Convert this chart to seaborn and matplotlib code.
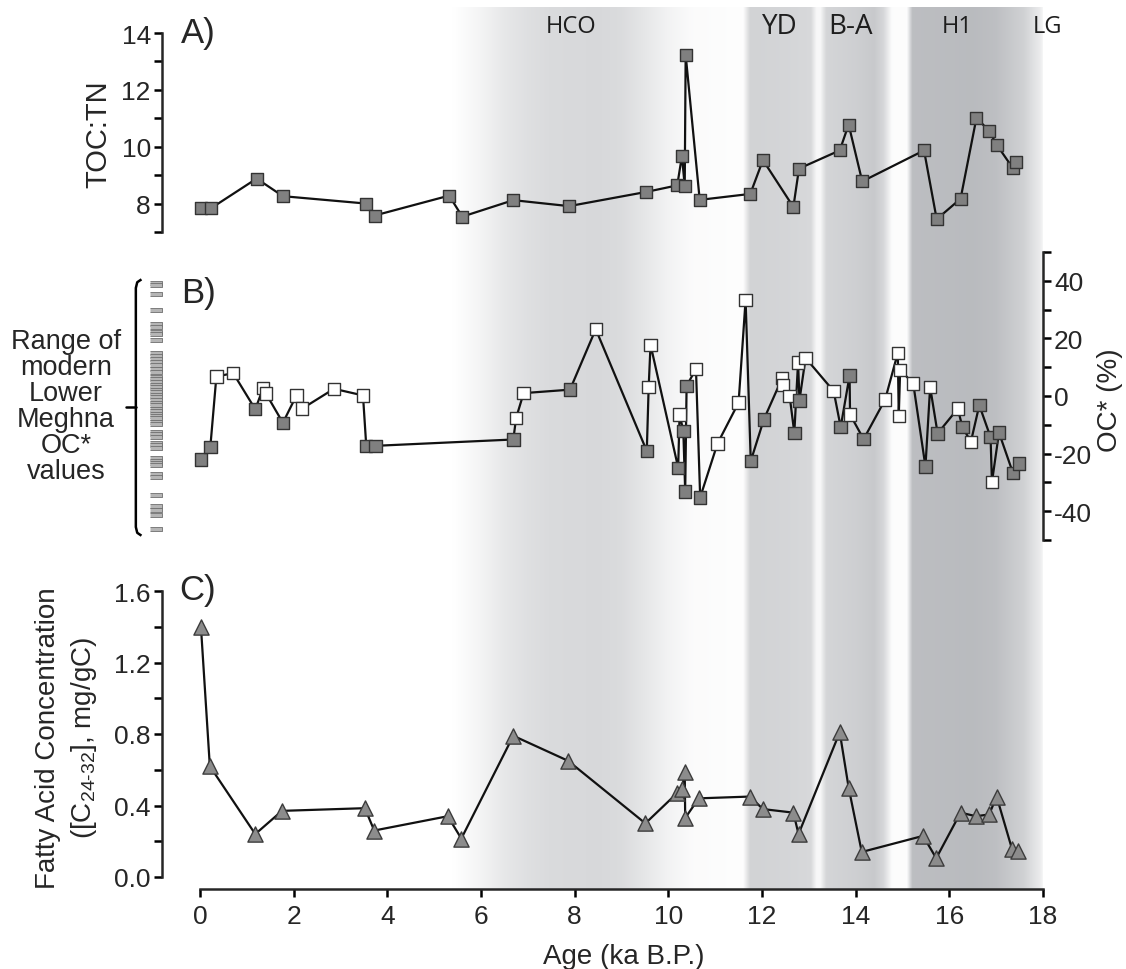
import numpy as np
import matplotlib
matplotlib.use("Agg")
import matplotlib.pyplot as plt
import seaborn as sns
from matplotlib.ticker import MultipleLocator, FormatStrFormatter

# A) TOC:TN
toc_age = [0.02, 0.23, 1.21, 1.77, 3.55, 3.73, 5.32, 5.60, 6.69, 7.88, 9.53, 10.19, 10.29,
           10.35, 10.37, 10.67, 11.75, 12.02, 12.67, 12.79, 13.66, 13.85, 14.14, 15.46, 15.73,
           16.24, 16.58, 16.85, 17.02, 17.35, 17.43]
toc_val = [7.83, 7.83, 8.88, 8.26, 8.00, 7.58, 8.28, 7.54, 8.12, 7.91, 8.41, 8.64, 9.67,
           8.63, 13.23, 8.13, 8.34, 9.53, 7.88, 9.23, 9.87, 10.78, 8.78, 9.87, 7.45,
           8.17, 11.02, 10.55, 10.05, 9.26, 9.45]

# B) OC* (%), g = grey square, w = white square
oc_age = [0.02, 0.22, 0.35, 0.71, 1.18, 1.35, 1.41, 1.77, 2.06, 2.18, 2.86, 3.48, 3.55, 3.75,
          6.69, 6.75, 6.91, 7.90, 8.45, 9.54, 9.58, 9.62, 10.21, 10.24, 10.32, 10.36, 10.39,
          10.59, 10.68, 11.05, 11.50, 11.65, 11.76, 12.04, 12.43, 12.45, 12.59, 12.69, 12.77,
          12.80, 12.93, 13.53, 13.68, 13.87, 13.88, 14.17, 14.63, 14.90, 14.92, 14.95, 15.23,
          15.49, 15.59, 15.75, 16.18, 16.28, 16.46, 16.64, 16.88, 16.91, 17.06, 17.36, 17.49]
oc_val = [-22.0, -17.8, 6.8, 7.9, -4.6, 2.8, 0.8, -9.3, 0.2, -4.4, 2.5, 0.2, -17.3, -17.3,
          -15.1, -7.6, 1.0, 2.2, 23.2, -19.1, 3.1, 17.8, -24.9, -6.4, -12.1, -33.1, 3.5,
          9.4, -35.2, -16.5, -2.3, 33.4, -22.6, -8.1, 6.2, 3.9, 0.0, -12.8, 11.7,
          -1.5, 13.2, 1.7, -10.8, 7.1, -6.4, -15.0, -1.2, 15.0, -7.0, 9.1, 4.3,
          -24.5, 3.1, -13.0, -4.4, -10.8, -15.9, -3.2, -14.3, -29.9, -12.7, -26.8, -23.5]
oc_fill = list("ggwwgwwgwwwwgggwwgwgwwgwgggwgwwwggwwwgwgwwggwgwwwwwgwgwgwggwggg")

# modern Lower Meghna OC* values (dashes at left of panel B)
modern_oc = [39.4, 38.4, 35.3, 29.9, 25.0, 24.1, 22.3, 21.5, 19.4, 15.0, 14.0, 12.9, 11.7,
             10.6, 9.4, 8.3, 6.6, 5.8, 4.8, 3.9, 3.1, 2.2, 1.4, 0.5, -0.3, -1.5, -2.4, -3.2,
             -4.4, -5.3, -6.1, -7.0, -7.8, -9.0, -9.8, -12.4, -13.3, -14.2, -16.2, -17.0,
             -18.0, -21.6, -22.6, -23.4, -23.9, -27.2, -28.0, -34.3, -38.3, -39.5, -41.2, -46.1]

# C) fatty acid concentration
fa_age = [0.02, 0.21, 1.18, 1.75, 3.52, 3.72, 5.29, 5.58, 6.69, 7.86, 9.51, 10.19, 10.29,
          10.35, 10.36, 10.65, 11.74, 12.02, 12.67, 12.78, 13.66, 13.85, 14.13, 15.44, 15.72,
          16.24, 16.57, 16.85, 17.01, 17.34, 17.47]
fa_val = [1.40, 0.62, 0.24, 0.37, 0.385, 0.26, 0.34, 0.215, 0.79, 0.65, 0.30, 0.47, 0.49,
          0.59, 0.33, 0.44, 0.45, 0.38, 0.36, 0.24, 0.81, 0.50, 0.14, 0.23, 0.105,
          0.36, 0.34, 0.35, 0.45, 0.155, 0.145]

# climate intervals shading (age ka, grey level 0-255)
band_age = [0, 5.4, 6.0, 6.5, 7.0, 7.5, 8.5, 9.0, 9.5, 10.0, 10.5, 11.6, 11.75, 11.9, 12.5,
            13.05, 13.17, 13.25, 13.38, 14.0, 14.4, 14.6, 14.78, 15.1, 15.22, 16.5, 17.0,
            17.6, 17.95, 18.05, 18.5]
band_grey = [255, 255, 244, 232, 224, 219, 217, 220, 231, 243, 251, 254, 212, 212, 214,
             217, 248, 248, 214, 208, 202, 215, 252, 253, 191, 188, 192, 210, 236, 255, 255]
band_names = ["HCO", "YD", "B-A", "H1", "LG"]
band_label_age = [7.92, 12.38, 13.9, 16.16, 18.1]
band_label_size = [17, 20, 20, 17, 17]

sns.set_theme(style="ticks")
plt.rcParams['font.family'] = ['Liberation Sans', 'DejaVu Sans']
plt.rcParams['axes.unicode_minus'] = False
plt.rcParams['mathtext.fontset'] = 'custom'
plt.rcParams['mathtext.rm'] = 'Liberation Sans'
plt.rcParams['mathtext.it'] = 'Liberation Sans:italic'

W, H = 1126, 970
fig = plt.figure(figsize=(W / 100, H / 100), dpi=100)
fig.patch.set_facecolor("white")


def box(l, t, r, b):
    return [l / W, 1 - b / H, (r - l) / W, (b - t) / H]


X0, X1 = 200, 1043

# background shading
bg = fig.add_axes(box(X0, 8, X1, 890))
grid = np.linspace(0, 18, 900)
g = np.interp(grid, band_age, band_grey)
tint = (255 - g) / 25
rgb = np.clip(np.stack([g - tint, g - tint / 3, g + tint], axis=-1) / 255, 0, 1)
bg.imshow(rgb[None, :, :], extent=(0, 18, 0, 1), aspect="auto", interpolation="bilinear")
bg.set_xlim(0, 18)
bg.set_ylim(0, 1)
bg.axis("off")
for name, a, fs in zip(band_names, band_label_age, band_label_size):
    bg.text(a, 0.978, name, ha="center", va="center", fontsize=fs,
            family=["Open Sans", "DejaVu Sans"], color="#1e1e1e")

axA = fig.add_axes(box(X0, 34, X1, 233), facecolor="none")
axB = fig.add_axes(box(X0, 253, X1, 541), facecolor="none")
axC = fig.add_axes(box(X0, 592, X1, 878), facecolor="none")

line_kw = dict(color="#111111", lw=1.6, sort=False, estimator=None)
tick_kw = dict(length=6, width=1.8, color="black", labelsize=19, direction="out")

# panel A
sns.lineplot(x=toc_age, y=toc_val, ax=axA, **line_kw)
sns.scatterplot(x=toc_age, y=toc_val, ax=axA, marker="s", s=80, color="#808080",
                edgecolor="#333333", linewidth=1, zorder=3, clip_on=False)
axA.set_xlim(0, 18)
axA.set_ylim(7, 14)
for s in ["top", "right", "bottom"]:
    axA.spines[s].set_visible(False)
axA.spines["left"].set_position(("outward", 27.4))
axA.spines["left"].set_linewidth(1.8)
axA.set_xticks([])
axA.yaxis.set_major_locator(MultipleLocator(2))
axA.yaxis.set_minor_locator(MultipleLocator(1))
axA.tick_params(axis="y", which="both", pad=2, **tick_kw)

# panel B
sns.lineplot(x=oc_age, y=oc_val, ax=axB, **line_kw)
sns.scatterplot(x=oc_age, y=oc_val, hue=oc_fill, palette={"g": "#808080", "w": "white"},
                ax=axB, marker="s", s=80, edgecolor="#333333", linewidth=1, zorder=3,
                legend=False, clip_on=False)
sns.scatterplot(x=[-0.94] * len(modern_oc), y=modern_oc, ax=axB,
                marker=[(-3, -1), (3, -1), (3, 1), (-3, 1)], s=80, color="#b5b5b5",
                edgecolor="#6e6e6e", linewidth=0.6, clip_on=False, zorder=3)
axB.plot([-1.25, -1.34, -1.37, -1.37, -1.34, -1.25], [40.5, 39.5, 37.5, -45.5, -47.5, -48.5],
         color="black", lw=1.8, clip_on=False, solid_capstyle="butt")
axB.plot([-1.37, -1.57], [-3.8, -3.8], color="black", lw=1.8, clip_on=False)
axB.set_xlim(0, 18)
axB.set_ylim(-50, 50)
for s in ["top", "left", "bottom"]:
    axB.spines[s].set_visible(False)
axB.spines["right"].set_linewidth(1.8)
axB.set_xticks([])
axB.yaxis.tick_right()
axB.yaxis.set_major_locator(MultipleLocator(20))
axB.yaxis.set_minor_locator(MultipleLocator(10))
axB.tick_params(axis="y", which="both", pad=2, **tick_kw)

# panel C
sns.lineplot(x=fa_age, y=fa_val, ax=axC, **line_kw)
sns.scatterplot(x=fa_age, y=fa_val, ax=axC, marker="^", s=120, color="#8c8c8c",
                edgecolor="#3c3c3c", linewidth=1, zorder=3, clip_on=False)
axC.set_xlim(0, 18)
axC.set_ylim(0, 1.6)
for s in ["top", "right"]:
    axC.spines[s].set_visible(False)
axC.spines["left"].set_position(("outward", 27.4))
axC.spines["bottom"].set_position(("outward", 8.6))
axC.spines["left"].set_linewidth(1.8)
axC.spines["bottom"].set_linewidth(1.8)
axC.xaxis.set_major_locator(MultipleLocator(2))
axC.yaxis.set_major_locator(MultipleLocator(0.4))
axC.yaxis.set_minor_locator(MultipleLocator(0.2))
axC.yaxis.set_major_formatter(FormatStrFormatter("%.1f"))
axC.tick_params(axis="both", which="both", pad=2, **tick_kw)
axC.tick_params(axis="x", pad=5)

for ax in (axA, axB, axC):
    ax.set_xlabel("")
    ax.set_ylabel("")

# labels
def ftext(px, py, s, **kw):
    fig.text(px / W, 1 - py / H, s, **kw)


ftext(98, 134, "TOC:TN", rotation=90, ha="center", va="center", fontsize=21)
ftext(1110, 400, "OC* (%)", rotation=90, ha="center", va="center", fontsize=20)
ftext(48, 738, "Fatty Acid Concentration", rotation=90, ha="center", va="center", fontsize=20)
ftext(84, 738, r"([C$_{24\text{-}32}$], mg/gC)", rotation=90, ha="center", va="center",
      fontsize=20)
ftext(624, 957, "Age (ka B.P.)", ha="center", va="center", fontsize=20)
ftext(66, 407, "Range of\nmodern\nLower\nMeghna\nOC*\nvalues", ha="center", va="center",
      fontsize=19.5, linespacing=1.0)
ftext(198, 34, "A)", ha="center", va="center", fontsize=25)
ftext(198, 293, "B)", ha="center", va="center", fontsize=25)
ftext(198, 591, "C)", ha="center", va="center", fontsize=25)

fig.savefig("out.png", dpi=100, facecolor="white")
